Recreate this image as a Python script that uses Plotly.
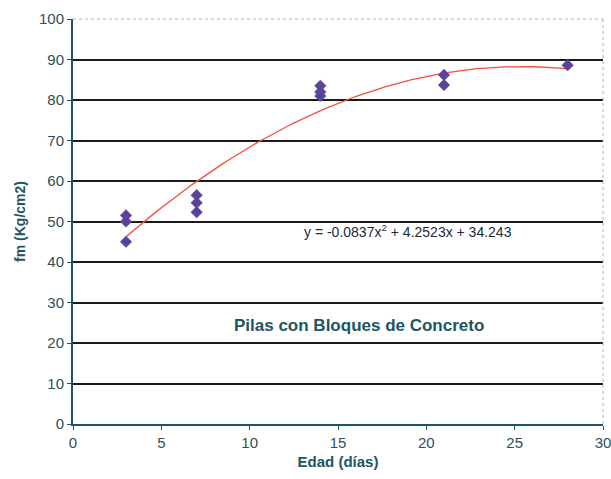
import numpy as np
import plotly.graph_objects as go

# Data
edad = [3, 3, 3, 7, 7, 7, 14, 14, 14, 21, 21, 28]
fm = [51.5, 50.0, 45.0, 56.5, 54.6, 52.3, 83.5, 82.0, 81.0, 86.2, 83.7, 88.6]

# Trendline coefficients (from chart label)
a2, a1, a0 = -0.0837, 4.2523, 34.243
x_trend = np.linspace(3, 28, 120)
y_trend = a2 * x_trend**2 + a1 * x_trend + a0

x_ticks = [0, 5, 10, 15, 20, 25, 30]
y_ticks = [0, 10, 20, 30, 40, 50, 60, 70, 80, 90, 100]

teal = "#1d5563"
tickcol = "#2f4f57"
font = "Liberation Sans, Arial, sans-serif"

fig = go.Figure()
fig.add_trace(go.Scatter(
    x=x_trend, y=y_trend, mode="lines",
    line=dict(color="#f0503c", width=1.3), hoverinfo="skip", showlegend=False))
fig.add_trace(go.Scatter(
    x=edad, y=fm, mode="markers",
    marker=dict(symbol="diamond", size=9, color="#55449a",
                line=dict(color="#8a4f9e", width=0.5)),
    showlegend=False))

fig.add_annotation(x=18.95, y=47.6, text="y = -0.0837x<sup>2</sup> + 4.2523x + 34.243",
                   showarrow=False, font=dict(family=font, size=14, color="#1a2a3a"))
fig.add_annotation(x=16.2, y=24.4, text="<b>Pilas con Bloques de Concreto</b>",
                   showarrow=False, font=dict(family=font, size=17, color=teal))

fig.update_layout(
    width=611, height=479,
    margin=dict(l=73, r=8, t=19, b=55),
    paper_bgcolor="white", plot_bgcolor="white",
    font=dict(family=font, color=teal, size=15),
    xaxis=dict(range=[0, 30], tickvals=x_ticks, ticks="outside", ticklen=4,
               tickcolor=teal, showgrid=False, zeroline=False, automargin=False,
               showline=True, linecolor=teal, linewidth=2, ticklabeloverflow="allow",
               title=dict(text="<b>Edad (días)</b>", font=dict(size=15, color=teal), standoff=6),
               tickfont=dict(size=15, color=tickcol)),
    yaxis=dict(range=[0, 100], tickvals=y_ticks, ticks="outside", ticklen=4,
               tickcolor=teal, showgrid=True, gridcolor="#1a1a1a", gridwidth=1.5,
               zeroline=False, showline=True, linecolor=teal, linewidth=2, automargin=False,
               title=dict(text="<b>fm (Kg/cm2)</b>", font=dict(size=14, color=teal), standoff=10),
               tickfont=dict(size=15, color=tickcol)),
)
# light dotted border on top and right
fig.add_shape(type="line", xref="paper", yref="paper", x0=0, x1=1, y0=1, y1=1,
              line=dict(color="#b0b0b0", width=1, dash="dot"))
fig.add_shape(type="line", xref="paper", yref="paper", x0=1, x1=1, y0=0, y1=1,
              line=dict(color="#b0b0b0", width=1, dash="dot"))

fig.write_html("out.html", config={"displayModeBar": False},
               post_script="document.body.style.margin='0px';document.body.style.overflow='hidden';")
